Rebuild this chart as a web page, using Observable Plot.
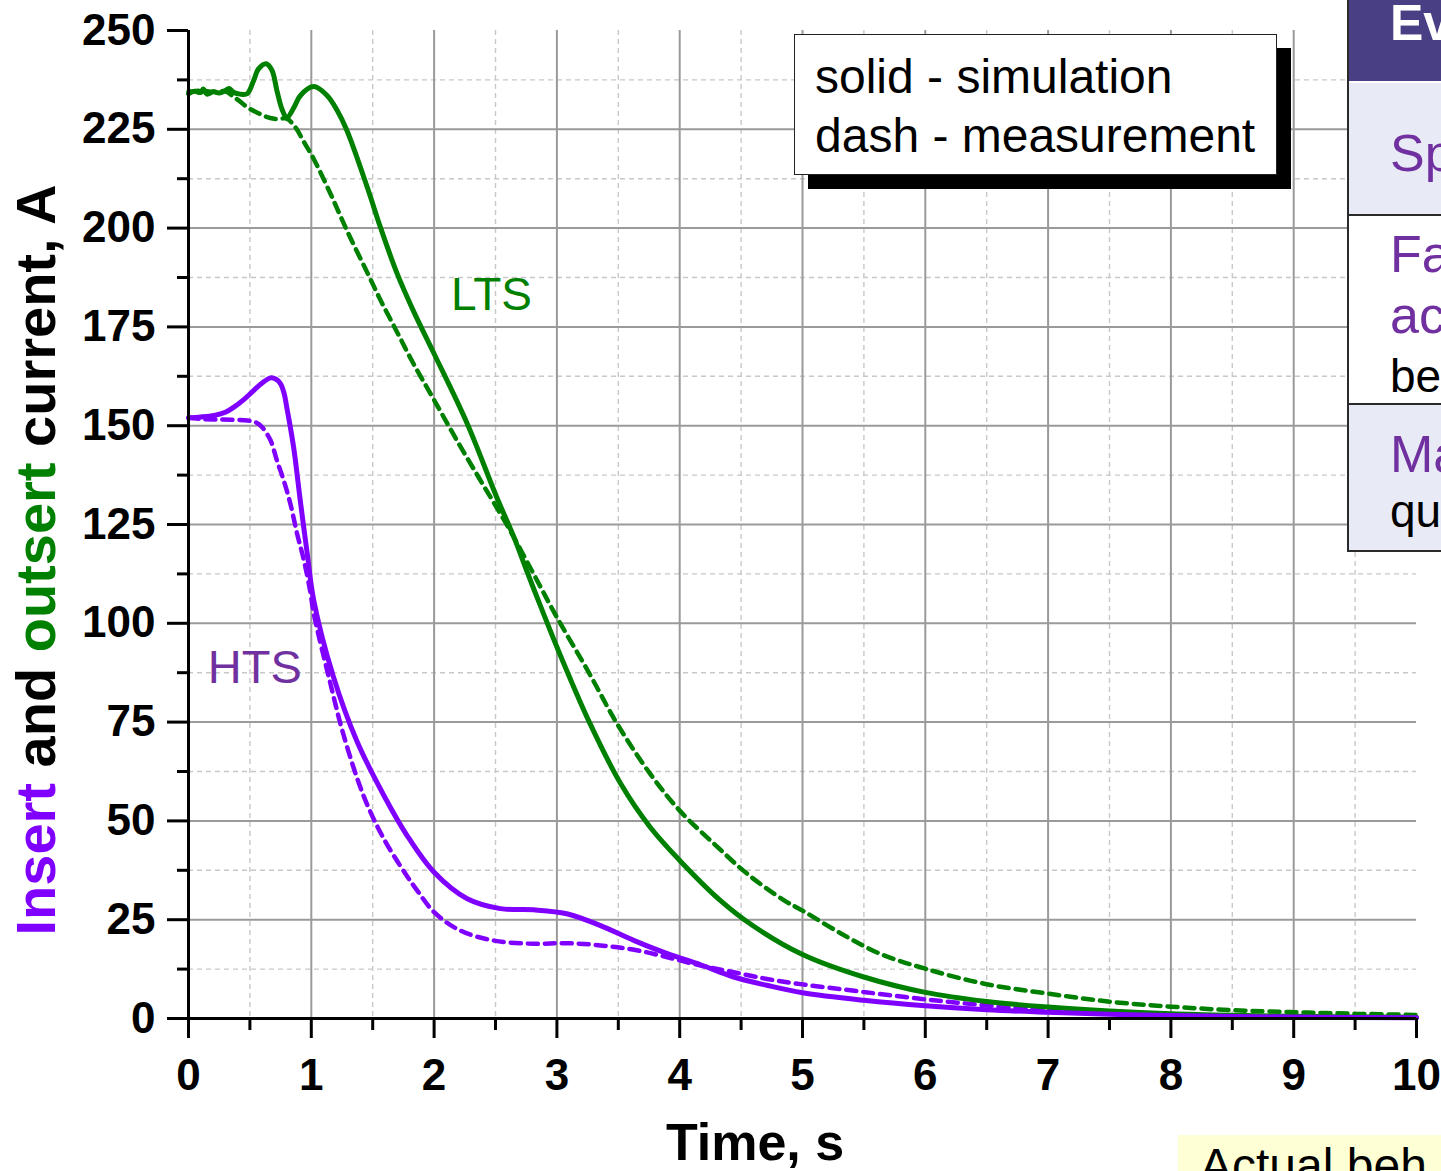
<!DOCTYPE html>
<html>
<head>
<meta charset="utf-8">
<script src="https://cdn.jsdelivr.net/npm/d3@7"></script>
<script src="https://cdn.jsdelivr.net/npm/@observablehq/plot@0.6"></script>
<style>
  html, body { margin: 0; padding: 0; background: #fff; }
  #wrap { position: relative; width: 1441px; height: 1171px; overflow: hidden; background: #fff; font-family: "Liberation Sans", Arial, sans-serif; }
  #chart { position: absolute; left: 0; top: 0; }
  #legend { position: absolute; left: 794px; top: 34px; width: 483px; height: 141px; box-sizing: border-box;
            border: 1.5px solid #222; background: #fff; box-shadow: 14px 14px 0 #000;
            font-size: 48px; line-height: 59px; padding: 12px 0 0 20px; color: #000; white-space: nowrap; }
  #side { position: absolute; left: 0; top: 0; }
  #note { position: absolute; left: 1178px; top: 1135px; width: 300px; height: 60px; background: #ffffd6; }
  #note span { position: absolute; left: 22px; top: 3px; font-size: 48px; line-height: 56px; color: #000; white-space: nowrap; }
</style>
</head>
<body>
<div id="wrap">
  <div id="chart"></div>
  <div id="legend"><div>solid - simulation</div><div>dash - measurement</div></div>
  <svg id="side" width="1441" height="600"></svg>
  <div id="note"><span>Actual beh</span></div>
</div>
<script>
// ---------------- data (time in s, current in A) ----------------
const ltsSimT = [0, 0.05, 0.1, 0.12, 0.15, 0.2, 0.25, 0.3, 0.33, 0.37, 0.42, 0.478, 0.53, 0.57, 0.633, 0.68, 0.72, 0.76, 0.80, 0.86, 0.91, 1.02, 1.13, 1.21, 1.29, 1.455, 1.563, 1.70, 1.835, 2.0, 2.27, 2.51, 2.65, 2.76, 2.87, 3.0, 3.27, 3.52, 3.76, 4.0, 4.33, 4.6, 5.0, 5.5, 6.0, 6.5, 7.0, 7.5, 8.0, 8.5, 9.0, 9.5, 10];
const ltsSimI = [234.0, 234.6, 234.3, 235.2, 233.9, 234.5, 234.2, 234.8, 235.3, 234.3, 233.9, 234.0, 237.3, 240.3, 241.6, 239.9, 234.8, 230.2, 227.9, 230.6, 233.5, 235.8, 233.5, 229.8, 224.7, 210.4, 200.2, 188.4, 178.8, 168.2, 150.5, 131.9, 121.8, 112.8, 104.1, 94.0, 74.6, 59.4, 48.4, 40.0, 29.9, 23.4, 16.2, 10.5, 6.6, 4.3, 2.9, 1.9, 1.2, 0.8, 0.55, 0.4, 0.3];

const ltsMeasT = [0, 0.1, 0.2, 0.3, 0.356, 0.40, 0.478, 0.56, 0.64, 0.72, 0.80, 0.87, 0.94, 1.02, 1.156, 1.29, 1.455, 1.56, 1.70, 1.83, 2.0, 2.2, 2.4, 2.6, 2.81, 3.0, 3.25, 3.49, 3.76, 4.0, 4.28, 4.55, 4.85, 5.0, 5.32, 5.63, 6.0, 6.48, 7.0, 7.52, 8.0, 8.5, 9.0, 9.5, 10];
const ltsMeasI = [234.5, 234.8, 234.5, 234.6, 233.5, 232.5, 230.6, 229.2, 228.1, 227.6, 227.7, 225.5, 221.8, 217.5, 208.7, 199.4, 188.8, 182.0, 173.6, 165.8, 156.5, 145.5, 135.0, 124.5, 112.5, 101.5, 88.1, 74.6, 61.9, 52.6, 44.2, 36.6, 29.9, 27.3, 21.4, 16.4, 12.6, 8.8, 6.3, 4.2, 3.0, 2.1, 1.6, 1.2, 0.9];

const htsSimT = [0, 0.1, 0.21, 0.3, 0.37, 0.45, 0.53, 0.6, 0.668, 0.71, 0.75, 0.78, 0.80, 0.83, 0.86, 0.91, 0.967, 1.02, 1.18, 1.37, 1.59, 1.78, 2.0, 2.27, 2.54, 2.81, 3.08, 3.355, 3.63, 3.90, 4.17, 4.44, 4.71, 5.0, 5.5, 6.0, 6.5, 7.0, 7.5, 8.0, 9.0, 10];
const htsSimI = [152.0, 152.2, 152.6, 153.4, 154.7, 156.6, 158.9, 160.8, 162.1, 161.8, 160.6, 158.0, 154.7, 149.5, 143.7, 131.1, 117.6, 105.8, 86.5, 70.3, 56.5, 46.3, 37.0, 30.3, 27.8, 27.5, 26.5, 23.5, 19.7, 16.4, 13.6, 10.5, 8.4, 6.5, 4.6, 3.2, 2.2, 1.6, 1.1, 0.75, 0.35, 0.2];

const htsMeasT = [0, 0.1, 0.21, 0.35, 0.48, 0.55, 0.60, 0.668, 0.72, 0.776, 0.83, 0.885, 0.94, 0.99, 1.02, 1.156, 1.265, 1.43, 1.59, 1.78, 1.86, 2.0, 2.21, 2.49, 2.81, 3.08, 3.355, 3.63, 3.90, 4.17, 4.44, 4.71, 4.96, 5.32, 6.09, 6.86, 7.63, 8.5, 9.5, 10];
const htsMeasI = [152.0, 151.7, 151.6, 151.5, 151.3, 150.8, 149.6, 146.3, 141.2, 136.1, 130.2, 122.6, 115.9, 108.3, 102.5, 84.7, 71.5, 56.0, 45.5, 36.0, 32.5, 26.9, 22.3, 19.7, 18.9, 19.05, 18.5, 17.4, 15.5, 13.4, 11.7, 10.0, 8.8, 7.4, 4.55, 2.4, 1.2, 0.6, 0.3, 0.2];

const xMajorTicks = [0, 1, 2, 3, 4, 5, 6, 7, 8, 9, 10];
const xMinorTicks = [0.5, 1.5, 2.5, 3.5, 4.5, 5.5, 6.5, 7.5, 8.5, 9.5];
const yMajorTicks = [0, 25, 50, 75, 100, 125, 150, 175, 200, 225, 250];
const yMinorTicks = [12.5, 37.5, 62.5, 87.5, 112.5, 137.5, 162.5, 187.5, 212.5, 237.5];
const xGridMajor = [1, 2, 3, 4, 5, 6, 7, 8, 9];
const yGridMajor = [25, 50, 75, 100, 125, 150, 175, 200, 225];

const seriesLabels = [
  {t: 2.467, I: 183.1, text: "LTS", color: "#008000", size: 46},
  {t: 0.54, I: 88.6, text: "HTS", color: "#7030a0", size: 47}
];

// ---------------- build ----------------
const rows = (ts, is) => ts.map((t, i) => ({t, I: is[i]}));
const ltsSim = rows(ltsSimT, ltsSimI);
const ltsMeas = rows(ltsMeasT, ltsMeasI);
const htsSim = rows(htsSimT, htsSimI);
const htsMeas = rows(htsMeasT, htsMeasI);

const GREEN = "#008000", VIOLET = "#8000ff";

const chart = Plot.plot({
  width: 1441, height: 1171,
  marginLeft: 188, marginRight: 25, marginTop: 30, marginBottom: 153,
  x: {domain: [0, 10], label: null},
  y: {domain: [0, 250], label: null},
  style: {fontFamily: "'Liberation Sans', Arial, sans-serif", background: "white", color: "black", overflow: "visible"},
  marks: [
    Plot.gridX(xMinorTicks, {stroke: "#c8c8c8", strokeOpacity: 1, strokeWidth: 1.4, strokeDasharray: "5,4"}),
    Plot.gridY(yMinorTicks, {stroke: "#c8c8c8", strokeOpacity: 1, strokeWidth: 1.4, strokeDasharray: "5,4"}),
    Plot.gridX(xGridMajor, {stroke: "#9a9a9a", strokeOpacity: 1, strokeWidth: 2}),
    Plot.gridY(yGridMajor, {stroke: "#9a9a9a", strokeOpacity: 1, strokeWidth: 2}),
    Plot.line(ltsMeas, {x: "t", y: "I", stroke: GREEN, strokeWidth: 4.5, strokeDasharray: "10,7", curve: "catmull-rom"}),
    Plot.line(htsMeas, {x: "t", y: "I", stroke: VIOLET, strokeWidth: 4.5, strokeDasharray: "10,7", curve: "catmull-rom"}),
    Plot.line(ltsSim, {x: "t", y: "I", stroke: GREEN, strokeWidth: 5, curve: "catmull-rom"}),
    Plot.line(htsSim, {x: "t", y: "I", stroke: VIOLET, strokeWidth: 5, curve: "catmull-rom"}),
    Plot.ruleX([0], {stroke: "black", strokeWidth: 3}),
    Plot.ruleY([0], {stroke: "black", strokeWidth: 3}),
    Plot.axisX(xMajorTicks, {tickSize: 20, tickPadding: 20, fontSize: 44, fontWeight: "bold", strokeWidth: 3, label: null, tickFormat: d => String(d)}),
    Plot.axisX(xMinorTicks, {tickSize: 12, tickPadding: 0, strokeWidth: 3, label: null, tickFormat: () => ""}),
    Plot.axisY(yMajorTicks, {tickSize: 21, tickPadding: 12, fontSize: 44, fontWeight: "bold", strokeWidth: 3, label: null, tickFormat: d => String(d)}),
    Plot.axisY(yMinorTicks, {tickSize: 11, tickPadding: 0, strokeWidth: 3, label: null, tickFormat: () => ""}),
    Plot.text(seriesLabels, {x: "t", y: "I", text: "text", fill: "color", textAnchor: "middle", lineAnchor: "middle"})
  ]
});
document.getElementById("chart").appendChild(chart);

const svg = d3.select(chart);
svg.selectAll("[aria-label='text'] text").each(function(d, i) {
  d3.select(this).attr("font-size", seriesLabels[i].size).attr("fill", seriesLabels[i].color);
});

// y axis title with multi-coloured words
const yt = svg.append("text")
  .attr("transform", "translate(55,560) rotate(-90)")
  .attr("text-anchor", "middle")
  .attr("font-size", 56)
  .attr("font-weight", "bold")
  .attr("fill", "#000");
yt.append("tspan").attr("fill", VIOLET).text("Insert");
yt.append("tspan").text(" and ");
yt.append("tspan").attr("fill", GREEN).text("outsert");
yt.append("tspan").text(" current, A");

// x axis title
svg.append("text")
  .attr("x", 755).attr("y", 1160)
  .attr("text-anchor", "middle")
  .attr("font-size", 52)
  .attr("font-weight", "bold")
  .attr("fill", "#000")
  .text("Time, s");

// ---------------- side table (slide content cut at the right edge) ----------------
const side = d3.select("#side").attr("font-family", "'Liberation Sans', Arial, sans-serif");
const tableRows = [
  {y0: 0, y1: 82, fill: "#493f84"},
  {y0: 82, y1: 215, fill: "#e8ebf5"},
  {y0: 215, y1: 404, fill: "#ffffff"},
  {y0: 404, y1: 551, fill: "#e8ebf5"}
];
const tableTexts = [
  {y: 40, text: "Ev", color: "#ffffff", size: 50, weight: "bold"},
  {y: 171, text: "Sp", color: "#7030a0", size: 52, weight: "normal"},
  {y: 272, text: "Fa", color: "#7030a0", size: 52, weight: "normal"},
  {y: 333, text: "ac", color: "#7030a0", size: 52, weight: "normal"},
  {y: 392, text: "be", color: "#000000", size: 46, weight: "normal"},
  {y: 472, text: "Ma", color: "#7030a0", size: 52, weight: "normal"},
  {y: 527, text: "qu", color: "#000000", size: 46, weight: "normal"}
];
side.selectAll("rect.row").data(tableRows).join("rect")
  .attr("x", 1347).attr("y", d => d.y0).attr("width", 120).attr("height", d => d.y1 - d.y0)
  .attr("fill", d => d.fill);
side.selectAll("line.sep").data([82, 215, 404, 551]).join("line")
  .attr("x1", 1347).attr("x2", 1441).attr("y1", d => d).attr("y2", d => d)
  .attr("stroke", (d, i) => i === 0 ? "#ffffff" : "#2a2a2a").attr("stroke-width", 2);
side.append("line").attr("x1", 1348).attr("x2", 1348).attr("y1", 0).attr("y2", 552)
  .attr("stroke", "#2a2a2a").attr("stroke-width", 2);
side.selectAll("text.cell").data(tableTexts).join("text")
  .attr("x", 1390).attr("y", d => d.y).attr("font-size", d => d.size)
  .attr("font-weight", d => d.weight).attr("fill", d => d.color).text(d => d.text);
</script>
</body>
</html>
